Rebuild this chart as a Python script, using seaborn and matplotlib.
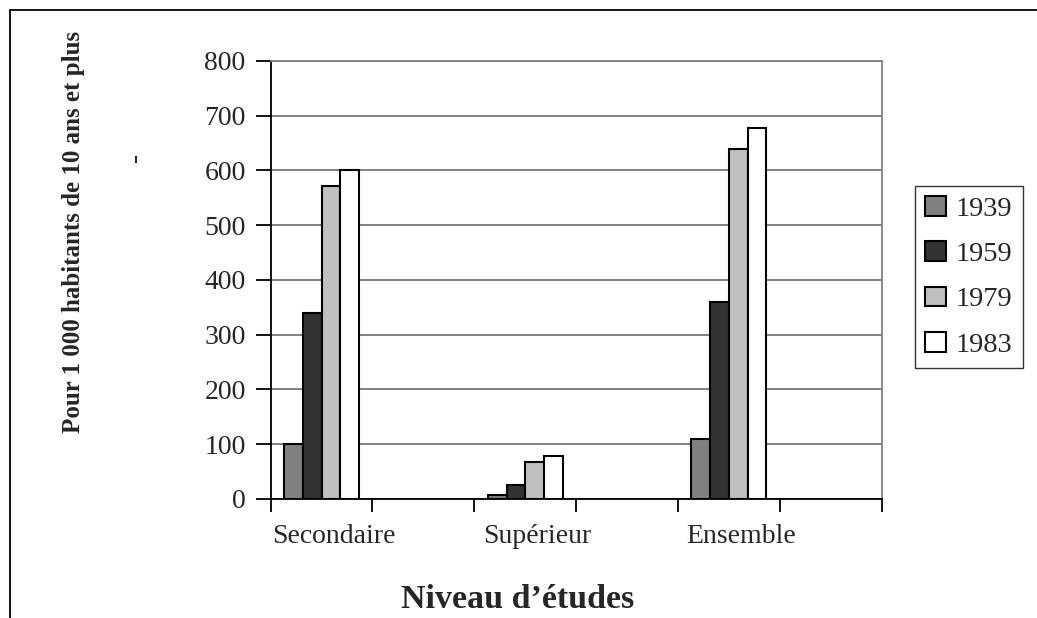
import numpy as np
import pandas as pd
import matplotlib
matplotlib.use("Agg")
import matplotlib.pyplot as plt
from matplotlib.lines import Line2D
import seaborn as sns

# Education level categories and survey years
niveaux = ["Secondaire", "Supérieur", "Ensemble"]
annees = ["1939", "1959", "1979", "1983"]

# Number per 1 000 inhabitants aged 10 and over
val_1939 = [100, 8, 110]
val_1959 = [339, 25, 360]
val_1979 = [572, 68, 639]
val_1983 = [600, 78, 677]

y_ticks = [0, 100, 200, 300, 400, 500, 600, 700, 800]
couleurs = ["#808080", "#333333", "#c0c0c0", "#ffffff"]

sns.set_theme(style="white")
plt.rcParams["font.family"] = ["Liberation Serif", "DejaVu Serif"]

rows = []
for annee, serie in zip(annees, [val_1939, val_1959, val_1979, val_1983]):
    for niv, v in zip(niveaux, serie):
        rows.append({"niveau": niv, "annee": annee, "valeur": v})
df = pd.DataFrame(rows)

# every category is followed by an empty slot on the category axis
ordre = []
for i, niv in enumerate(niveaux):
    ordre += [niv, " " * (i + 1)]

fig = plt.figure(figsize=(10.37, 6.18), dpi=100)
ax = fig.add_axes([0.2610, 0.1926, 0.5892, 0.7087])

sns.barplot(data=df, x="niveau", y="valeur", hue="annee", order=ordre,
            hue_order=annees, palette=couleurs, saturation=1, width=0.735,
            edgecolor="black", linewidth=1.5, ax=ax, legend=False)

ax.set_xlim(-0.5, len(ordre) - 0.5)
ax.set_ylim(0, 800)
ax.set_yticks(y_ticks)
ax.set_yticklabels([str(t) for t in y_ticks], fontsize=20)
ax.tick_params(axis="y", direction="out", length=11, width=1.3, color="black", pad=7, left=True)

ax.set_xticks(np.arange(-0.5, len(ordre), 1.0))
ax.set_xticklabels([])
ax.tick_params(axis="x", which="major", direction="out", length=9, width=1.3, color="black", bottom=True)
pos = [ordre.index(n) + 0.12 for n in niveaux]
ax.set_xticks(pos, minor=True)
ax.set_xticklabels(niveaux, minor=True, fontsize=20)
ax.tick_params(axis="x", which="minor", length=0, pad=18)

ax.set_xlabel("")
ax.set_ylabel("")
ax.yaxis.grid(True, color="#777777", linewidth=1.3)
ax.xaxis.grid(False)
ax.set_axisbelow(True)
for side in ["left", "bottom"]:
    ax.spines[side].set_color("black")
    ax.spines[side].set_linewidth(1.3)
for side in ["top", "right"]:
    ax.spines[side].set_color("#808080")
    ax.spines[side].set_linewidth(1.3)

handles = [plt.Rectangle((0, 0), 1, 1, facecolor=c, edgecolor="black", linewidth=1.5)
           for c in couleurs]
leg = fig.legend(handles, annees, loc="upper left",
                 bbox_to_anchor=(915 / 1037, 1 - 186 / 618), bbox_transform=fig.transFigure,
                 borderaxespad=0, fontsize=20.5, frameon=True, fancybox=False,
                 handlelength=0.74, handleheight=0.7, handletextpad=0.35,
                 borderpad=0.35, labelspacing=0.68)
leg.get_frame().set_edgecolor("black")
leg.get_frame().set_linewidth(1.0)

fig.text(74 / 1037, 1 - 232 / 618, "Pour 1 000 habitants de 10 ans et plus",
         rotation=90, ha="center", va="center", fontsize=18, fontweight="bold")
fig.text(135 / 1037, 1 - 157 / 618, "-", rotation=90, ha="center", va="center", fontsize=20)
fig.text(518 / 1037, 1 - 600 / 618, "Niveau d’études",
         ha="center", va="center", fontsize=24.5, fontweight="bold")

# outer frame of the figure (top and left edges)
fig.add_artist(Line2D([10 / 1037, 1.0], [1 - 10 / 618, 1 - 10 / 618],
                      transform=fig.transFigure, color="black", linewidth=1.3))
fig.add_artist(Line2D([10 / 1037, 10 / 1037], [1 - 10 / 618, 0.0],
                      transform=fig.transFigure, color="black", linewidth=1.3))

fig.savefig("out.png", dpi=100, facecolor="white")
